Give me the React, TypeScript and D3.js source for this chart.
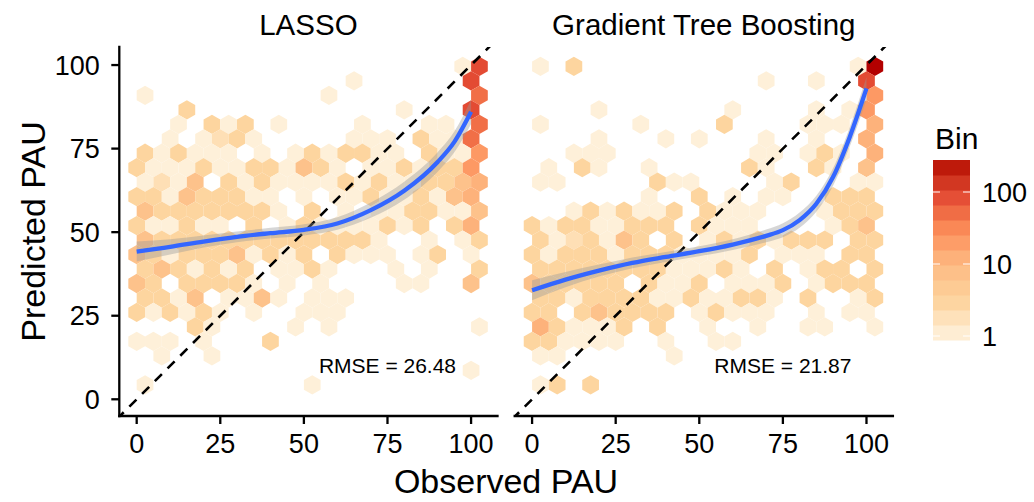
import React from 'react';
import * as d3 from 'd3';

// ---------- data ----------
const panelTitles = ['LASSO', 'Gradient Tree Boosting'];
const rmseLabels = ['RMSE = 26.48', 'RMSE = 21.87'];
const axisTicks = [0, 25, 50, 75, 100];
const legendBreaks = [1, 10, 100];
const legendTitle = 'Bin';
const xTitle = 'Observed PAU';
const yTitle = 'Predicted PAU';

// digit code in hex grids -> bin count
const countLevels = [0, 1, 2, 3, 7, 12, 22, 50, 90, 280];
const maxCount = 280;
const binPalette = ['#fef0d9', '#fdd49e', '#fdbb84', '#fc8d59', '#e34a33', '#b30000'];

// hex rows, top row (y ~ 99.6) first, bottom row (y = 0) last; '.' = empty
const lassoHexRows = [
  '...................18',
  '.............1......8',
  '1..........1........7',
  '...3............1...8',
  '..1.313.1....1...11.7',
  '..1.1231.....111.3117',
  '313111.1.1313311.3116',
  '3111311331431.1131336',
  '1214.3131111313113345',
  '331433311.1.113113145',
  '433333331.3.1.1133114',
  '311311.3.131111313.35',
  '433333333333331..1.13',
  '43133341313.3111.13.1',
  '3431313.1131...1.1..3',
  '43.33331.1.1....11..4',
  '3314.1141.111........',
  '313131.1..111........',
  '...31....1.1........1',
  '111.1...3............',
  '.1..1................',
  '....................1',
  '1.........1..........',
  '.....................',
];

const gbtHexRows = [
  '1.3................19',
  '..............1..1..8',
  '....................6',
  '....1.......1....1.16',
  '1.....1....3....111.5',
  '....1...1.1...1..1..5',
  '..111........11.131.5',
  '.1.31..1.....31..31.4',
  '11.....311....13...11',
  '.......1..3.1.11..333',
  '..1313113.3111...1333',
  '313311333.3111....134',
  '3123143.3.13131333.33',
  '31333133311113.111.33',
  '3333333311131.3.133.3',
  '433333.3113.1113.1333',
  '331333311311331.3..13',
  '33.343333.13111..1.11',
  '531113.3..1..1..11..1',
  '331111..1..11........',
  '11......1............',
  '.....................',
  '13.3.................',
  '.....................',
];

// loess smooth fits
const lassoSmoothX = [0, 10, 20, 30, 40, 50, 60, 70, 80, 90, 95, 100];
const lassoSmoothY = [44.2, 45.6, 47.2, 48.6, 49.7, 50.7, 52.6, 56.6, 62.4, 71, 77, 86];
const lassoSmoothSE = [3.0, 2.3, 1.8, 1.6, 1.6, 1.7, 1.9, 2.3, 2.7, 2.9, 3.1, 3.6];

const gbtSmoothX = [0, 10, 20, 30, 40, 50, 60, 70, 75, 80, 85, 90, 95, 100];
const gbtSmoothY = [32.6, 35.8, 38.5, 40.8, 42.6, 44.3, 46.3, 48.9, 50.6, 53.6, 58.5, 66.5, 78.5, 93];
const gbtSmoothSE = [3.0, 2.3, 1.8, 1.6, 1.5, 1.5, 1.6, 1.9, 2.1, 2.3, 2.4, 2.6, 2.9, 3.4];

// ---------- layout ----------
const FONT = "'Liberation Sans', Arial, Helvetica, sans-serif";
const X_DOMAIN = [-5.2, 107.9];
const Y_DOMAIN = [-5, 105.4];
const PANEL_LEFTS = [119.3, 514.7];
const PANEL_W = 378.2;
const PANEL_TOP = 47;
const PANEL_BOTTOM = 416;
const HEX_W = 5;
const ROW_STEP = (HEX_W * Math.sqrt(3)) / 2;
const HEX_R = HEX_W / Math.sqrt(3);

const colorT = d3.scaleLog().domain([1, maxCount]).range([0, 1]).clamp(true);
const paletteInterp = d3.piecewise(d3.interpolateLab, binPalette);
const fillFor = (c: number) => paletteInterp(colorT(c));

function Panel({ idx, rows, sx, sy, se, showY }: any) {
  const x0 = PANEL_LEFTS[idx];
  const xs = d3.scaleLinear().domain(X_DOMAIN).range([x0, x0 + PANEL_W]);
  const ys = d3.scaleLinear().domain(Y_DOMAIN).range([PANEL_BOTTOM, PANEL_TOP]);

  const hexes: { cx: number; cy: number; count: number }[] = [];
  rows.forEach((s: string, k: number) => {
    const j = rows.length - 1 - k;
    const cy = j * ROW_STEP;
    const off = j % 2 === 1 ? HEX_W / 2 : 0;
    for (let i = 0; i < s.length; i++) {
      const ch = s[i];
      if (ch === '.') continue;
      hexes.push({ cx: i * HEX_W + off, cy, count: countLevels[+ch] });
    }
  });
  const verts = [
    [0, HEX_R], [HEX_W / 2, HEX_R / 2], [HEX_W / 2, -HEX_R / 2],
    [0, -HEX_R], [-HEX_W / 2, -HEX_R / 2], [-HEX_W / 2, HEX_R / 2],
  ];
  const hexPath = (cx: number, cy: number) =>
    'M' + verts.map(([dx, dy]) => `${xs(cx + dx).toFixed(2)},${ys(cy + dy).toFixed(2)}`).join('L') + 'Z';

  const pts = sx.map((x: number, i: number) => ({ x, y: sy[i], se: se[i] }));
  const line = d3.line<any>().x(d => xs(d.x)).y(d => ys(d.y)).curve(d3.curveMonotoneX);
  const area = d3.area<any>().x(d => xs(d.x)).y0(d => ys(d.y - d.se)).y1(d => ys(d.y + d.se)).curve(d3.curveMonotoneX);
  const clipId = `clip${idx}`;
  const cx = x0 + PANEL_W / 2;

  return (
    <g>
      <defs>
        <clipPath id={clipId}>
          <rect x={x0} y={PANEL_TOP} width={PANEL_W} height={PANEL_BOTTOM - PANEL_TOP} />
        </clipPath>
      </defs>
      <g clipPath={`url(#${clipId})`}>
        {hexes.map((h, i) => (
          <path key={i} d={hexPath(h.cx, h.cy)} fill={fillFor(h.count)} />
        ))}
        <line x1={xs(-6)} y1={ys(-6)} x2={xs(110)} y2={ys(110)} stroke="#000" strokeWidth={2.6} strokeDasharray="10,8" />
        <path d={area(pts) || ''} fill="#999999" fillOpacity={0.4} />
        <path d={line(pts) || ''} fill="none" stroke="#3366FF" strokeWidth={4.3} />
      </g>
      <text x={xs(75)} y={ys(10) + 7.5} textAnchor="middle" fontSize={21} fontFamily={FONT} fill="#000">{rmseLabels[idx]}</text>
      {/* axes */}
      <line x1={x0} y1={PANEL_BOTTOM} x2={x0 + PANEL_W} y2={PANEL_BOTTOM} stroke="#000" strokeWidth={2.3} strokeLinecap="square" />
      {showY && <line x1={x0} y1={PANEL_TOP} x2={x0} y2={PANEL_BOTTOM} stroke="#000" strokeWidth={2.3} strokeLinecap="square" />}
      {axisTicks.map(t => (
        <g key={'x' + t}>
          <line x1={xs(t)} x2={xs(t)} y1={PANEL_BOTTOM} y2={PANEL_BOTTOM + 8} stroke="#000" strokeWidth={2.3} />
          <text x={xs(t)} y={453} textAnchor="middle" fontSize={27} fontFamily={FONT} fill="#000">{t}</text>
        </g>
      ))}
      {showY && axisTicks.map(t => (
        <g key={'y' + t}>
          <line x1={x0 - 8} x2={x0} y1={ys(t)} y2={ys(t)} stroke="#000" strokeWidth={2.3} />
          <text x={x0 - 19.5} y={ys(t) + 9.6} textAnchor="end" fontSize={27} fontFamily={FONT} fill="#000">{t}</text>
        </g>
      ))}
      <text x={cx} y={34.5} textAnchor="middle" fontSize={29.5} fontFamily={FONT} fill="#000">{panelTitles[idx]}</text>
    </g>
  );
}

function Legend() {
  const barX = 933, barW = 37, barTop = 160, barBottom = 340;
  const nb = 12;
  const bandH = (barBottom - barTop) / nb;
  const ly = d3.scaleLog().domain([1, 100]).range([336, 192]);
  const bands = d3.range(nb).map(k => {
    const yc = barBottom - bandH * (k + 0.5);
    const v = ly.invert(yc);
    return { y: barBottom - bandH * (k + 1), fill: fillFor(v) };
  });
  return (
    <g>
      <text x={935} y={149} fontSize={30} fontFamily={FONT} fill="#000">{legendTitle}</text>
      {bands.map((b, i) => (
        <rect key={i} x={barX} y={b.y} width={barW} height={bandH + 0.5} fill={b.fill} />
      ))}
      {legendBreaks.map(v => (
        <g key={v}>
          <line x1={barX} x2={barX + 7} y1={ly(v)} y2={ly(v)} stroke="#fff" strokeWidth={1} />
          <line x1={barX + barW - 7} x2={barX + barW} y1={ly(v)} y2={ly(v)} stroke="#fff" strokeWidth={1} />
          <text x={982} y={ly(v) + 9.6} fontSize={27} fontFamily={FONT} fill="#000">{v}</text>
        </g>
      ))}
    </g>
  );
}

export default function App() {
  return (
    <svg width={1034} height={502} style={{ position: 'absolute', left: 0, top: 0, background: '#fff' }}>
      <rect x={0} y={0} width={1034} height={502} fill="#fff" />
      <Panel idx={0} rows={lassoHexRows} sx={lassoSmoothX} sy={lassoSmoothY} se={lassoSmoothSE} showY={true} />
      <Panel idx={1} rows={gbtHexRows} sx={gbtSmoothX} sy={gbtSmoothY} se={gbtSmoothSE} showY={false} />
      <text transform={`translate(45,${(PANEL_TOP + PANEL_BOTTOM) / 2}) rotate(-90)`} textAnchor="middle" fontSize={34} fontFamily={FONT} fill="#000">{yTitle}</text>
      <text x={506} y={493} textAnchor="middle" fontSize={34} fontFamily={FONT} fill="#000">{xTitle}</text>
      <Legend />
    </svg>
  );
}
